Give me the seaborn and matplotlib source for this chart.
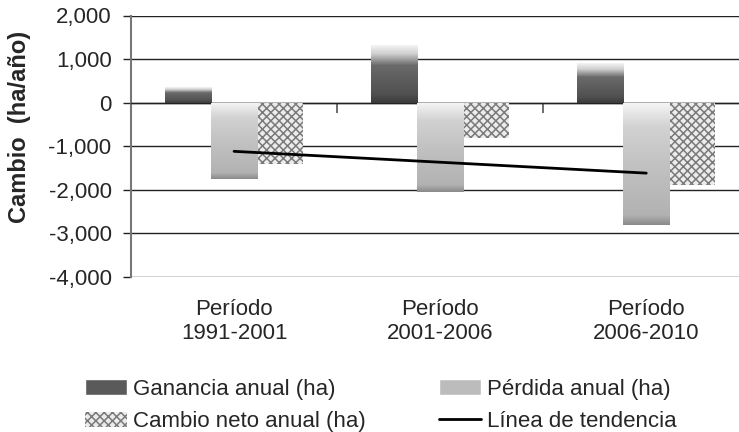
import matplotlib
matplotlib.use("Agg")
import matplotlib.pyplot as plt
import matplotlib.ticker as mticker
from matplotlib.colors import LinearSegmentedColormap
from matplotlib.lines import Line2D
import numpy as np
import pandas as pd
import seaborn as sns

# valores (ha/año)
periodos = ["Período\n1991-2001", "Período\n2001-2006", "Período\n2006-2010"]
series = ["Ganancia anual (ha)", "Pérdida anual (ha)", "Cambio neto anual (ha)"]
ganancia = [350, 1330, 900]
perdida = [-1750, -2050, -2800]
neto = [-1400, -800, -1900]
yticks = [-4000, -3000, -2000, -1000, 0, 1000, 2000]

colores = {series[0]: "#5a5a5a", series[1]: "#bcbcbc", series[2]: "#ececec"}
color_trama = "#7a7a7a"

# degradados tipo Excel (de arriba hacia abajo)
grad_gan = LinearSegmentedColormap.from_list(
    "gan", [(0, "#f4f4f4"), (0.15, "#d0d0d0"), (0.35, "#6a6a6a"), (0.85, "#505050"), (1, "#3a3a3a")])
grad_per = LinearSegmentedColormap.from_list(
    "per", [(0, "#f6f6f6"), (0.2, "#d2d2d2"), (0.5, "#c2c2c2"), (0.92, "#b2b2b2"), (1, "#8a8a8a")])

df = pd.DataFrame({
    "periodo": periodos * 3,
    "serie": [s for s in series for _ in periodos],
    "valor": ganancia + perdida + neto,
})

sns.set_theme(style="white")
plt.rcParams["font.family"] = ["Liberation Sans", "DejaVu Sans"]
plt.rcParams["hatch.linewidth"] = 1.1

fig = plt.figure(figsize=(7.39, 4.32), dpi=100)
ax = fig.add_axes([131 / 739, 1 - 277 / 432, 608 / 739, 261.5 / 432])

sns.barplot(data=df, x="periodo", y="valor", hue="serie", hue_order=series,
            palette=colores, width=0.67, gap=0, saturation=1, legend=False,
            edgecolor="none", linewidth=0, ax=ax, zorder=3)

grad = np.linspace(0, 1, 256).reshape(-1, 1)
for cont, cmap in [(ax.containers[0], grad_gan), (ax.containers[1], grad_per)]:
    for p in cont:
        x0, y0 = p.get_x(), p.get_y()
        w, h = p.get_width(), p.get_height()
        top, bot = max(y0, y0 + h), min(y0, y0 + h)
        im = ax.imshow(grad, cmap=cmap, aspect="auto", origin="upper",
                       extent=(x0, x0 + w, bot, top), zorder=3.1)
        im.set_clip_path(p)

for p in ax.containers[2]:
    p.set_hatch("xxxx")
    p.set_edgecolor(color_trama)
    p.set_linewidth(0)

# línea de tendencia del cambio neto
x = np.arange(len(neto))
m, b = np.polyfit(x, neto, 1)
ax.plot(x, m * x + b, color="black", lw=2, zorder=4)

ax.set_ylim(-4000, 2000)
ax.set_xlim(-0.5, 2.45)
ax.set_aspect("auto")
ax.set_yticks(yticks)
ax.yaxis.set_major_formatter(mticker.FuncFormatter(lambda v, _: f"{int(v):,}"))
ax.yaxis.grid(True, color="#222222", lw=1)
ax.set_axisbelow(True)
ax.tick_params(axis="y", length=6, width=1, color="#222222", pad=8,
               labelsize=16, left=True)

# eje de categorías cruzando en cero
ax.spines["bottom"].set_position(("data", 0))
ax.spines["bottom"].set_color("#222222")
ax.spines["bottom"].set_linewidth(1)
ax.set_xticks([-0.5, 0.5, 1.5], labels=["", "", ""])
ax.tick_params(axis="x", length=7, width=1.2, color="#555555", bottom=True)
ax.spines["left"].set_color("#777777")
ax.spines["left"].set_linewidth(1.5)
ax.spines["top"].set_visible(False)
ax.spines["right"].set_visible(False)
ax.set_xlabel("")

sec = ax.secondary_xaxis("bottom")
sec.set_xticks(range(len(periodos)), labels=periodos)
sec.tick_params(length=0, pad=16, labelsize=16)
sec.spines["bottom"].set_visible(False)

ax.set_ylabel("Cambio  (ha/año)", fontsize=17, fontweight="bold")
ax.yaxis.set_label_coords(-0.165, 0.574)

handles = [
    plt.Rectangle((0, 0), 1, 1, facecolor=colores[series[0]]),
    plt.Rectangle((0, 0), 1, 1, facecolor=colores[series[2]], hatch="xxxx",
                  edgecolor=color_trama, linewidth=0),
    plt.Rectangle((0, 0), 1, 1, facecolor=colores[series[1]]),
    Line2D([], [], color="black", lw=2),
]
labels = [series[0], series[2], series[1], "Línea de tendencia"]
fig.legend(handles, labels, ncol=2, loc="upper left",
           bbox_to_anchor=(85 / 739, 1 - 379 / 432), frameon=False,
           fontsize=16, handlelength=1.9, handleheight=0.7, handletextpad=0.25,
           columnspacing=3.3, labelspacing=0.5, borderpad=0, borderaxespad=0)

fig.savefig("out.png", dpi=100)
